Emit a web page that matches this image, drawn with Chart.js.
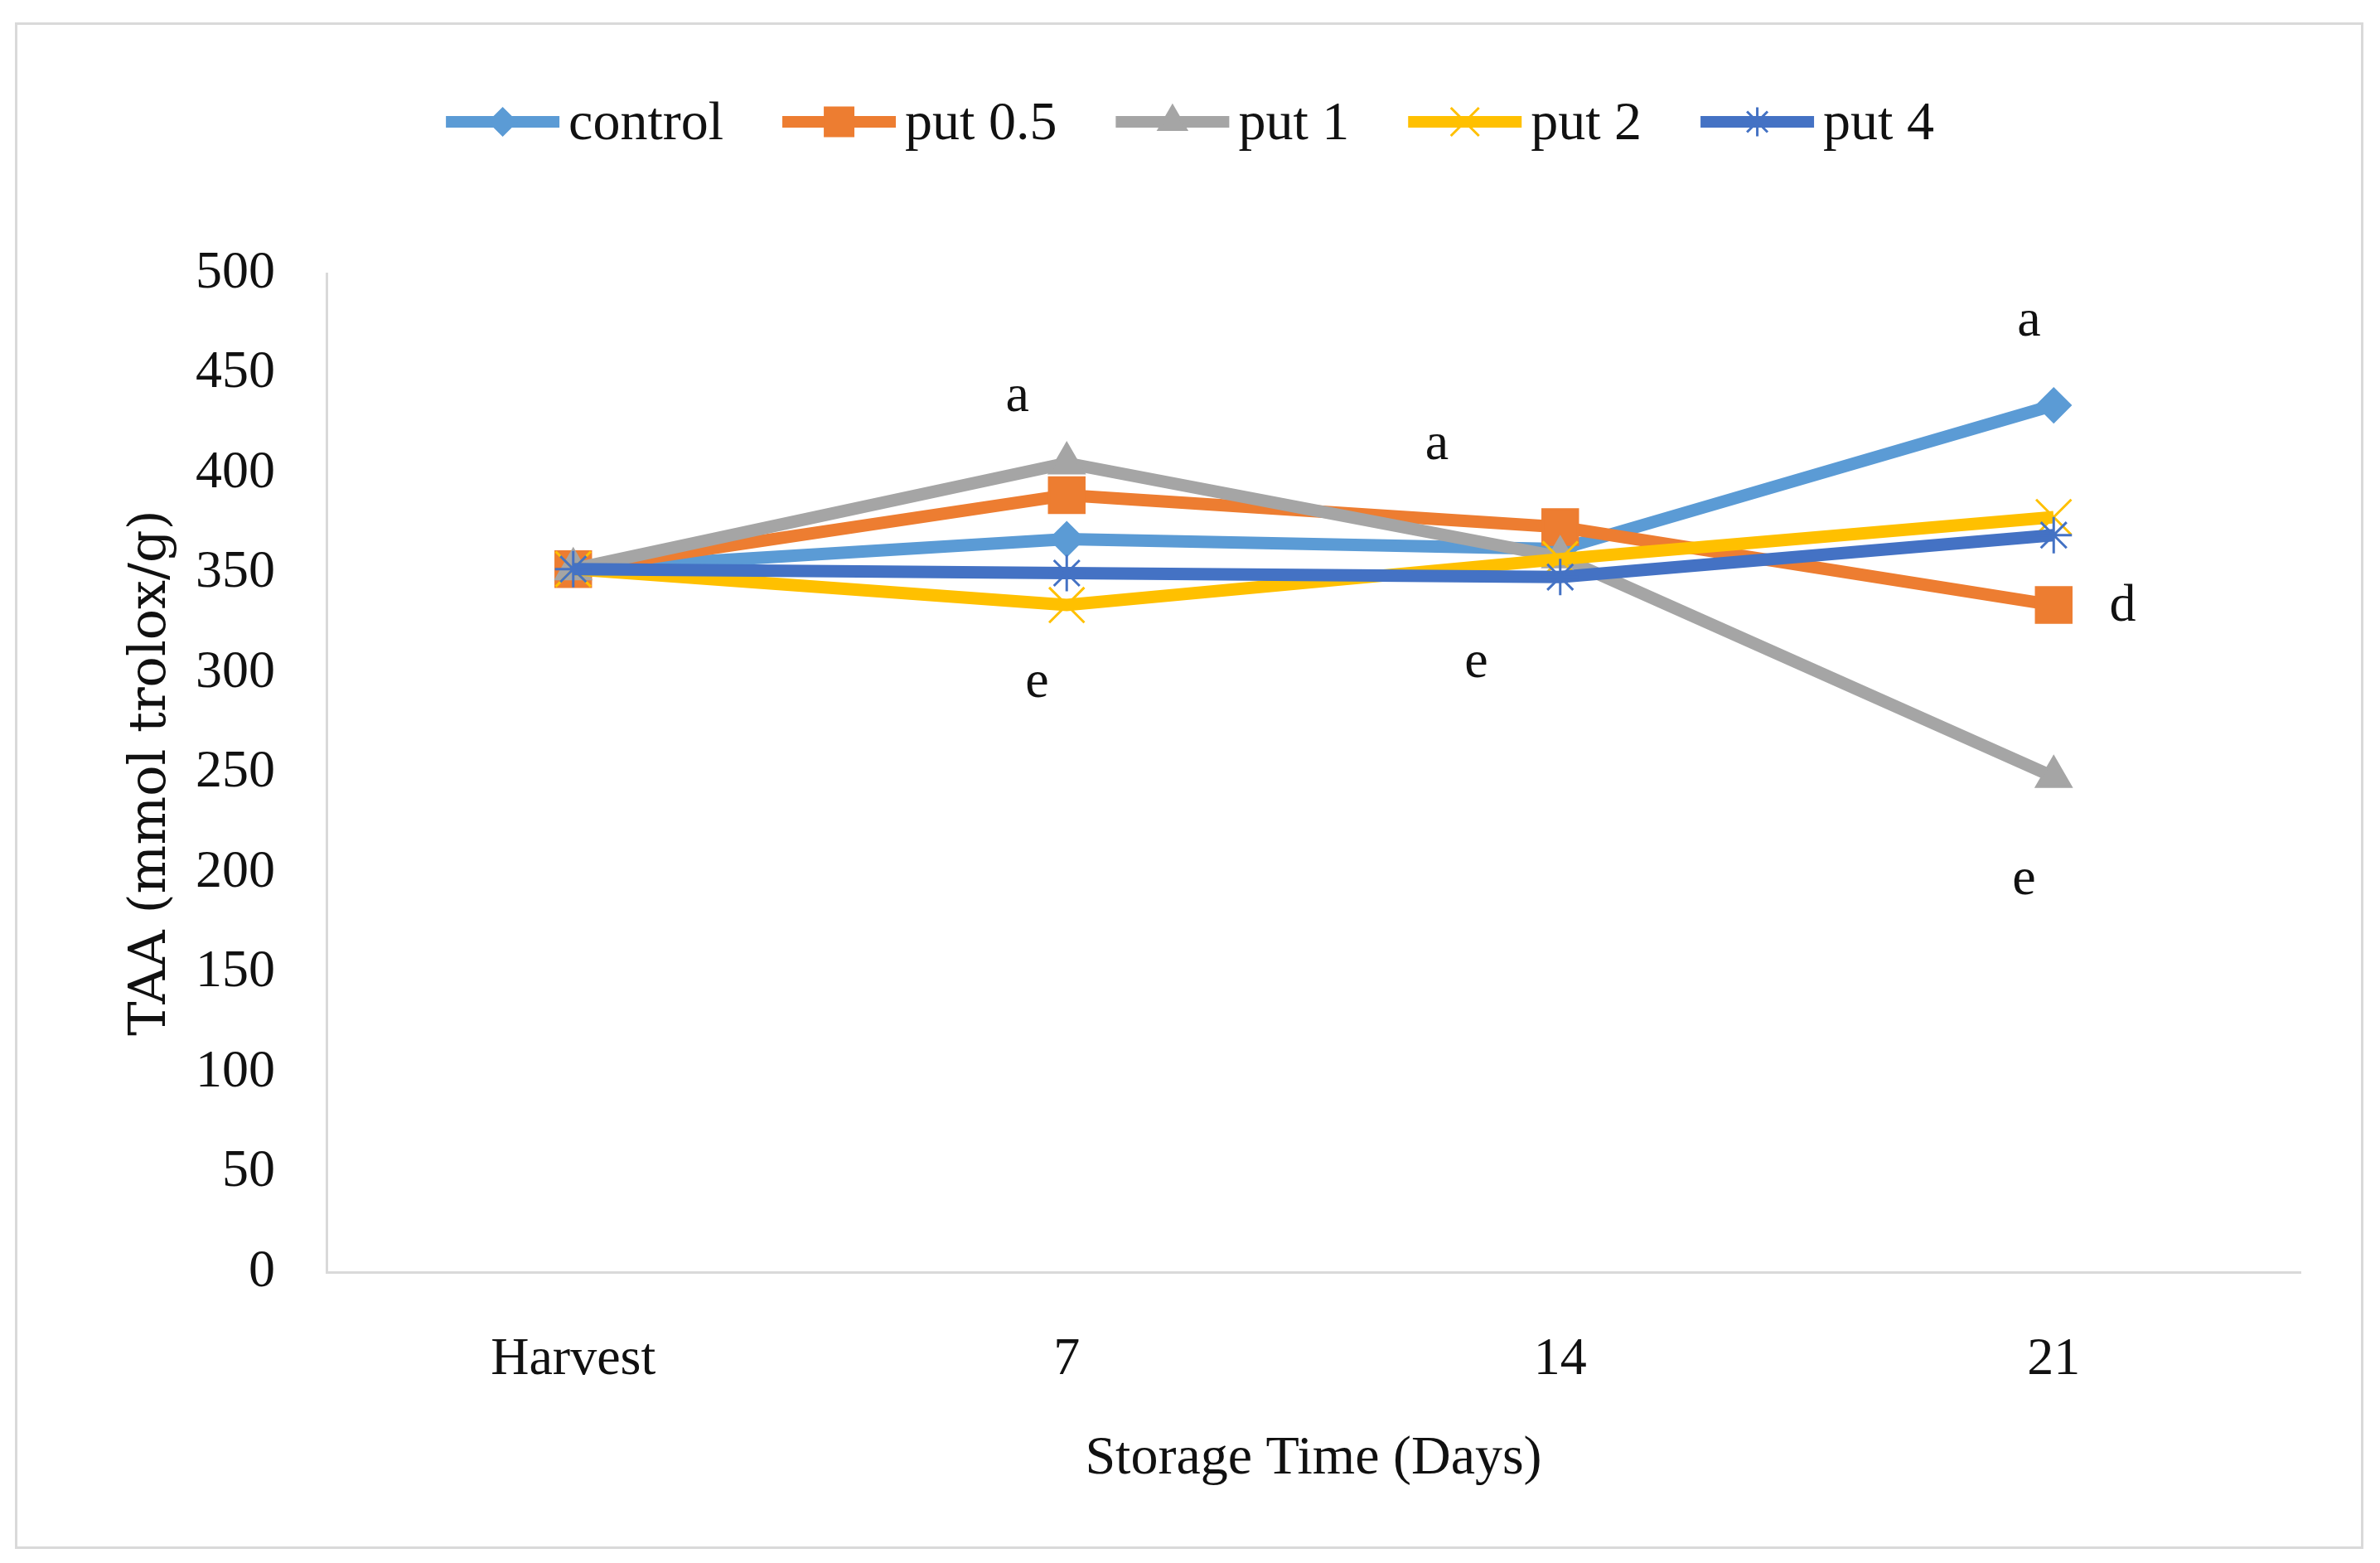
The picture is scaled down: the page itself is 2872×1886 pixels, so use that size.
<!DOCTYPE html>
<html>
<head>
<meta charset="utf-8">
<script src="https://cdn.jsdelivr.net/npm/chart.js@4.4.1/dist/chart.umd.min.js"></script>
<style>
  html, body { margin: 0; padding: 0; background: #fff; }
  #wrap { position: relative; width: 2872px; height: 1886px; }
  #frame {
    position: absolute; left: 18px; top: 27px; width: 2828px; height: 1836px;
    border: 3px solid #d9d9d9; pointer-events: none;
  }
</style>
</head>
<body>
<div id="wrap">
  <canvas id="taaChart" width="2872" height="1886"></canvas>
  <div id="frame"></div>
</div>
<script>
// categories and series (TAA, mmol trolox/g)
const days = ['Harvest', '7', '14', '21'];
const control = [352, 367, 362, 434];
const put05 = [352, 389, 373, 334];
const put1 = [352, 405, 358, 248];
const put2 = [352, 334, 357, 378];
const put4 = [352, 350, 348, 369];

const yTicks = [0, 50, 100, 150, 200, 250, 300, 350, 400, 450, 500];

// significance letters: category position (fractional index) and value
const noteText = ['a', 'a', 'e', 'e', 'a', 'd', 'e'];
const notePos = [0.9, 1.75, 0.94, 1.83, 2.95, 3.14, 2.94];
const noteVal = [438, 414, 295, 305, 476, 333, 196];

const FONT = "'Liberation Serif', 'Times New Roman', serif";

const series = [
    { label: 'control', data: control, color: '#5b9bd5', style: 'rectRot', radius: 20 },
    { label: 'put 0.5', data: put05, color: '#ed7d31', style: 'rect', radius: 30 },
    { label: 'put 1', data: put1, color: '#a5a5a5', style: 'triangle', radius: 24 },
    { label: 'put 2', data: put2, color: '#ffc000', style: 'crossRot', radius: 30 },
    { label: 'put 4', data: put4, color: '#4472c4', style: 'star', radius: 22 }
];

// Excel-like legend: line segment with marker, then the name
const legendPlugin = {
    id: 'excelLegend',
    afterDraw(chart) {
        const ctx = chart.ctx;
        const lineLen = 137, gapText = 11, gapItem = 71, y = 147;
        ctx.save();
        ctx.font = '66px ' + FONT;
        const widths = series.map(s => ctx.measureText(s.label).width);
        let total = 0;
        widths.forEach((w, i) => { total += lineLen + gapText + w + (i < series.length - 1 ? gapItem : 0); });
        let x = chart.width / 2 - total / 2;
        series.forEach((s, i) => {
            ctx.strokeStyle = s.color;
            ctx.lineWidth = 14;
            ctx.beginPath();
            ctx.moveTo(x, y);
            ctx.lineTo(x + lineLen, y);
            ctx.stroke();
            ctx.fillStyle = s.color;
            ctx.strokeStyle = s.color;
            ctx.lineWidth = 3;
            Chart.helpers.drawPoint(ctx, { pointStyle: s.style, radius: s.radius * 0.8, rotation: 0, borderWidth: 3 }, x + lineLen / 2, y);
            ctx.fillStyle = '#111';
            ctx.textBaseline = 'middle';
            ctx.textAlign = 'left';
            ctx.fillText(s.label, x + lineLen + gapText, y + 4);
            x += lineLen + gapText + widths[i] + gapItem;
        });
        ctx.restore();
    }
};

// letters placed in data space
const notesPlugin = {
    id: 'notes',
    afterDatasetsDraw(chart) {
        const xs = chart.scales.x, ys = chart.scales.y;
        const step = xs.getPixelForValue(1) - xs.getPixelForValue(0);
        const ctx = chart.ctx;
        ctx.save();
        ctx.font = '64px ' + FONT;
        ctx.fillStyle = '#111';
        ctx.textAlign = 'center';
        ctx.textBaseline = 'middle';
        noteText.forEach((t, i) => {
            const px = xs.getPixelForValue(0) + notePos[i] * step;
            ctx.fillText(t, px, ys.getPixelForValue(noteVal[i]));
        });
        ctx.restore();
    }
};

const ctx = document.getElementById('taaChart').getContext('2d');
new Chart(ctx, {
    type: 'line',
    data: {
        labels: days,
        datasets: series.map((s, i) => ({
            label: s.label,
            data: s.data,
            borderColor: s.color,
            backgroundColor: s.color,
            borderWidth: 15,
            pointStyle: s.style,
            pointRadius: s.radius,
            pointBorderWidth: 3,
            pointBackgroundColor: s.color,
            pointBorderColor: s.color,
            tension: 0,
            fill: false,
            order: series.length - i
        }))
    },
    options: {
        responsive: false,
        animation: false,
        devicePixelRatio: 1,
        layout: { padding: { top: 330, right: 96, bottom: 0, left: 0 } },
        plugins: {
            legend: { display: false },
            tooltip: { enabled: false }
        },
        scales: {
            x: {
                offset: true,
                grid: { display: false, drawTicks: false },
                border: { display: true, color: '#d9d9d9', width: 3 },
                ticks: { color: '#111', padding: 68, font: { family: FONT, size: 64 } },
                title: {
                    display: true,
                    text: 'Storage Time (Days)',
                    color: '#111',
                    font: { family: FONT, size: 66 },
                    padding: { top: 0, bottom: 86 }
                },
                afterFit(scale) { scale.height = 351; }
            },
            y: {
                min: 0,
                max: 500,
                afterBuildTicks(scale) { scale.ticks = yTicks.map(v => ({ value: v })); },
                grid: { display: false, drawTicks: false },
                border: { display: true, color: '#d9d9d9', width: 3 },
                ticks: { color: '#111', padding: 62, font: { family: FONT, size: 64 } },
                title: {
                    display: true,
                    text: 'TAA (mmol trolox/g)',
                    color: '#111',
                    font: { family: "'DejaVu Serif', serif", size: 62 },
                    padding: { top: 146, bottom: 0 }
                },
                afterFit(scale) { scale.width = 394; }
            }
        }
    },
    plugins: [legendPlugin, notesPlugin]
});
</script>
</body>
</html>
